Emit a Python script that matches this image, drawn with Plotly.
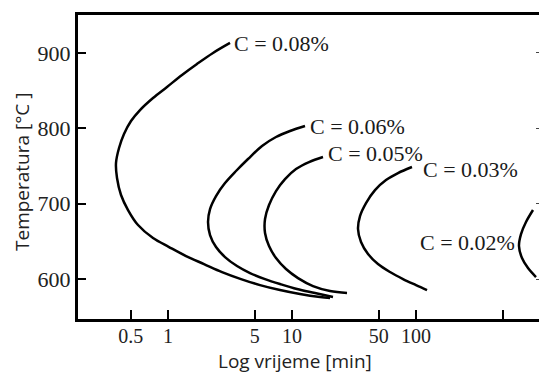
import math
import plotly.graph_objects as go

# Data (time in minutes, temperature in °C)
c008_t = [3.162, 2.306, 1.713, 1.297, 0.9816, 0.757, 0.5945, 0.503, 0.4416, 0.4026, 0.3806, 0.3878, 0.4178,
          0.4759, 0.5729, 0.757, 1.019, 1.397, 1.951, 2.726, 3.879, 5.521, 8.003, 11.6, 16.82, 20.26]
c008_T = [913.3, 900, 885.4, 870.8, 854.9, 840.3, 824.3, 809.7, 792.5, 773.9, 754, 734.1, 711.5,
          691.6, 671.7, 654.4, 642.5, 630.5, 619.9, 609.3, 600, 592, 585.4, 580.1, 576.1, 574.8]

c006_t = [12.73, 9.637, 7.43, 5.731, 4.418, 3.535, 2.882, 2.439, 2.182, 2.102, 2.182, 2.439, 2.882,
          3.601, 4.585, 6.058, 8.003, 10.97, 15.33, 21.41]
c006_T = [803.1, 796.5, 788.5, 776.6, 759.3, 743.4, 727.4, 710.2, 692.9, 675.7, 658.4, 642.5, 629.2,
          617.3, 608, 600, 593.4, 586.7, 581.4, 576.1]

c005_t = [17.78, 13.72, 10.77, 8.782, 7.43, 6.525, 6.058, 6.058, 6.525, 7.43, 8.946, 11.18, 14.77, 20.26, 27.77]
c005_T = [761.9, 755.3, 746, 732.7, 716.8, 698.2, 679.7, 661.1, 643.8, 627.9, 613.3, 601.3, 590.7, 584.1, 581.4]

c003_t = [92.84, 71.58, 57.3, 46.7, 39.53, 35.35, 34.07, 36.02, 41.02, 49.37, 61.71, 78.58, 100, 122.7]
c003_T = [748.7, 740.7, 731.4, 718.1, 700.9, 683.6, 666.4, 649.1, 633.2, 619.9, 609.3, 600, 592, 585.4]

c002_t = [878.3, 771.2, 702.9, 676.9, 715.8, 800.4, 928.4]
c002_T = [691.6, 675.7, 659.7, 643.8, 627.9, 614.6, 602.7]

curve_names = ["C = 0.08%", "C = 0.06%", "C = 0.05%", "C = 0.03%", "C = 0.02%"]
label_t = [3.3, 13.5, 18.8, 110, 650]
label_T = [913, 803, 767, 746, 648]
label_anchor = ["left", "left", "left", "left", "right"]

x_tickvals = [0.5, 1, 5, 10, 50, 100, 500]
x_ticktext = ["0.5", "1", "5", "10", "50", "100", ""]
y_tickvals = [600, 700, 800, 900]

curves = [(c008_t, c008_T), (c006_t, c006_T), (c005_t, c005_T), (c003_t, c003_T), (c002_t, c002_T)]

fig = go.Figure()
for (t, T), name in zip(curves, curve_names):
    fig.add_trace(go.Scatter(x=t, y=T, mode="lines", name=name,
                             line=dict(color="black", width=2.5, shape="spline", smoothing=1.0),
                             showlegend=False, hoverinfo="skip"))

# invisible trace for the right-side axis ticks
fig.add_trace(go.Scatter(x=[c008_t[0]], y=[c008_T[0]], yaxis="y2", mode="markers",
                         marker=dict(opacity=0), showlegend=False, hoverinfo="skip"))

serif = "Liberation Serif, Times New Roman, serif"
sans = "Open Sans, DejaVu Sans, sans-serif"

for name, t, T, anc in zip(curve_names, label_t, label_T, label_anchor):
    fig.add_annotation(x=math.log10(t), y=T, xref="x", yref="y", text=name, showarrow=False,
                       xanchor=anc, yanchor="middle",
                       font=dict(family=serif, size=22, color="#1a1a1a"))

fig.add_annotation(x=(295 - 78) / 461, y=-(374 - 319) / 304, xref="paper", yref="paper",
                   text="Log vrijeme [min]", showarrow=False, xanchor="center", yanchor="bottom",
                   yshift=-2, font=dict(family=sans, size=19, color="#222"))
fig.add_annotation(x=(22 - 78) / 461, y=(319 - 172) / 304, xref="paper", yref="paper",
                   text="Temperatura [°C ]", showarrow=False, textangle=-90,
                   xanchor="center", yanchor="middle",
                   font=dict(family=sans, size=19, color="#222"))

fig.update_layout(
    width=539, height=374,
    margin=dict(l=78, r=0, t=15, b=55),
    plot_bgcolor="white", paper_bgcolor="white",
    xaxis=dict(type="log", range=[-0.726, 2.992], showgrid=False, zeroline=False,
               showline=True, linecolor="black", linewidth=3, mirror=True,
               ticks="inside", ticklen=9, tickwidth=1.5, tickcolor="black",
               tickvals=x_tickvals, ticktext=x_ticktext, ticklabelstandoff=-3,
               tickfont=dict(family=serif, size=20, color="#222")),
    yaxis=dict(range=[547, 950.4], showgrid=False, zeroline=False,
               showline=True, linecolor="black", linewidth=3,
               ticks="inside", ticklen=8, tickwidth=1.5, tickcolor="black",
               tickvals=y_tickvals,
               tickfont=dict(family=serif, size=22, color="#222")),
    yaxis2=dict(range=[547, 950.4], overlaying="y", side="right", showgrid=False,
                zeroline=False, showline=False, ticks="inside", ticklen=3, tickwidth=1,
                tickcolor="#444", tickvals=y_tickvals, showticklabels=False),
)

fig.write_html("out.html")
